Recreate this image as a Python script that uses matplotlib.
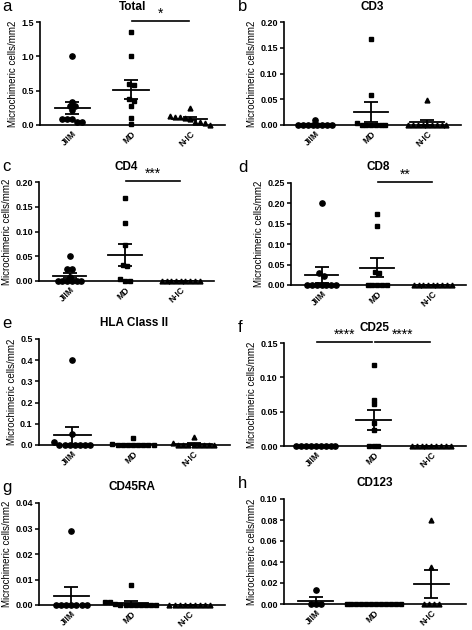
import numpy as np
import matplotlib
matplotlib.use('Agg')
from matplotlib import pyplot as plt

plt.rcParams['font.family'] = ['Liberation Sans', 'DejaVu Sans']

groups = ['JIIM', 'MD', 'N-IC']
markers = ['o', 's', '^']

# panel data: one list per group
total = [[1.0, 0.34, 0.28, 0.28, 0.22, 0.09, 0.09, 0.09, 0.04, 0.04],
         [1.35, 1.0, 0.6, 0.58, 0.38, 0.35, 0.27, 0.1, 0.02],
         [0.25, 0.13, 0.12, 0.11, 0.1, 0.09, 0.05, 0.04, 0.03, 0.0]]
cd3 = [[0.01, 0, 0, 0, 0, 0, 0, 0, 0],
       [0.167, 0.058, 0.004, 0, 0, 0, 0, 0, 0],
       [0.049, 0, 0, 0, 0, 0, 0, 0, 0, 0]]
cd4 = [[0.05, 0.025, 0.025, 0.008, 0, 0, 0, 0, 0, 0],
       [0.167, 0.118, 0.072, 0.033, 0.03, 0.004, 0, 0],
       [0, 0, 0, 0, 0, 0, 0, 0, 0]]
cd8 = [[0.2, 0.03, 0.023, 0, 0, 0, 0, 0, 0, 0],
       [0.175, 0.145, 0.033, 0.03, 0, 0, 0, 0, 0],
       [0, 0, 0, 0, 0, 0, 0, 0, 0]]
hla = [[0.4, 0.05, 0.013, 0, 0, 0, 0, 0, 0, 0],
       [0.032, 0.004, 0, 0, 0, 0, 0, 0, 0, 0],
       [0.038, 0.01, 0, 0, 0, 0, 0, 0, 0, 0]]
cd25 = [[0, 0, 0, 0, 0, 0, 0, 0, 0],
        [0.118, 0.067, 0.061, 0.033, 0.023, 0, 0, 0],
        [0, 0, 0, 0, 0, 0, 0, 0, 0]]
cd45ra = [[0.029, 0, 0, 0, 0, 0, 0, 0],
          [0.008, 0.001, 0.001, 0.0005, 0, 0, 0, 0, 0, 0, 0, 0],
          [0, 0, 0, 0, 0, 0, 0, 0, 0]]
cd123 = [[0.013, 0, 0, 0],
         [0, 0, 0, 0, 0, 0, 0, 0, 0, 0, 0, 0],
         [0.08, 0.035, 0, 0, 0, 0]]

panels = [
    ('a', 'Total', total, 1.5, 0.5, '%.1f', [(1, 2, '*')]),
    ('b', 'CD3', cd3, 0.2, 0.05, '%.2f', []),
    ('c', 'CD4', cd4, 0.2, 0.05, '%.2f', [(1, 2, '***')]),
    ('d', 'CD8', cd8, 0.25, 0.05, '%.2f', [(1, 2, '**')]),
    ('e', 'HLA Class II', hla, 0.5, 0.1, '%.1f', []),
    ('f', 'CD25', cd25, 0.15, 0.05, '%.2f', [(0, 1, '****'), (1, 2, '****')]),
    ('g', 'CD45RA', cd45ra, 0.04, 0.01, '%.2f', []),
    ('h', 'CD123', cd123, 0.1, 0.02, '%.2f', []),
]

# axes boxes in pixels: left, right, top, bottom
boxes = [(40, 225, 22, 125), (284, 461, 22, 125),
         (39, 214, 182, 281), (291, 466, 183, 285),
         (39, 230, 339, 445), (284, 466, 343, 446),
         (39, 225, 503, 605), (284, 466, 499, 604)]
W, H = 472, 630


def swarm(vals, ymax, step=0.085):
    vals = np.sort(np.asarray(vals, float))[::-1]
    xs = np.zeros(len(vals))
    i = 0
    while i < len(vals):
        j = i + 1
        while j < len(vals) and vals[j - 1] - vals[j] < 0.035 * ymax:
            j += 1
        n = j - i
        xs[i:j] = (np.arange(n) - (n - 1) / 2) * step
        i = j
    return vals, xs


fig = plt.figure(figsize=(W / 100, H / 100), dpi=100)

for (letter, title, data, ymax, tstep, fmt, sigs), (l, r, t, b) in zip(panels, boxes):
    ax = fig.add_axes([l / W, 1 - b / H, (r - l) / W, (b - t) / H])
    for k, vals in enumerate(data):
        v, dx = swarm(vals, ymax)
        ax.plot(k + dx, v, linestyle='none', marker=markers[k], color='black',
                markersize=3.5 if k else 3.8, clip_on=False, zorder=3)
        arr = np.asarray(vals, float)
        m = arr.mean()
        sem = arr.std(ddof=1) / np.sqrt(len(arr))
        ax.plot([k - 0.3, k + 0.3], [m, m], color='black', lw=1.3, zorder=4)
        ax.errorbar(k, m, yerr=sem, color='black', lw=1.3, capsize=5,
                    capthick=1.3, zorder=4)
    for x0, x1, stars in sigs:
        yl = ymax * 1.01
        ax.plot([x0 + 0.02, x1 - 0.02], [yl, yl], color='black', lw=1.2, clip_on=False)
        ax.text((x0 + x1) / 2, yl + ymax * 0.005, stars, ha='center', va='bottom',
                fontsize=10, clip_on=False)
    ax.set_xlim(-0.55, 2.6)
    ax.set_ylim(0, ymax)
    ax.set_yticks(np.arange(0, ymax + tstep / 2, tstep))
    ax.yaxis.set_major_formatter(matplotlib.ticker.FormatStrFormatter(fmt))
    ax.set_xticks([0, 1, 2])
    ax.set_xticklabels(groups, rotation=45, ha='right', rotation_mode='anchor',
                       fontweight='bold')
    for lab in ax.get_yticklabels():
        lab.set_fontweight('bold')
    ax.tick_params(labelsize=6.5, width=1.1, length=3, pad=1.5)
    ax.tick_params(axis='x', length=0, pad=3, labelsize=6.2)
    ax.spines['top'].set_visible(False)
    ax.spines['right'].set_visible(False)
    ax.spines['left'].set_linewidth(1.2)
    ax.spines['bottom'].set_linewidth(1.2)
    ax.set_ylabel('Microchimeric cells/mm2', fontsize=7, labelpad=2)
    ax.set_title(title, fontsize=8.5, fontweight='bold', pad=9)
    lx = 2 if l < 236 else 238
    fig.text(lx / W, 1 - (t - 8) / H, letter, fontsize=12, ha='left', va='bottom')

fig.savefig('out.png', dpi=100, facecolor='white')
